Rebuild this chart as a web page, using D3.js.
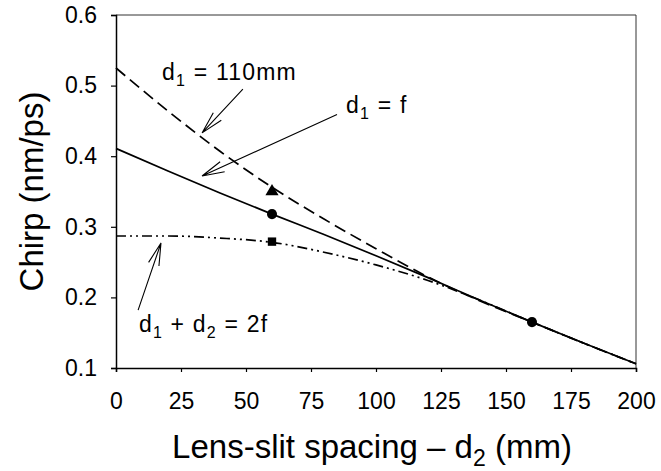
<!DOCTYPE html>
<html>
<head>
<meta charset="utf-8">
<script src="https://cdn.jsdelivr.net/npm/d3@7"></script>
<style>
  body { margin: 0; background: #fff; }
  svg { font-family: "Liberation Sans", Arial, Helvetica, sans-serif; }
</style>
</head>
<body>
<div id="chart"></div>
<script>
// spacing d2 (mm) sampled along the curves
const spacing = [0, 20, 40, 60, 80, 100, 120, 140, 160, 180, 200];
// chirp (nm/ps) for the three configurations
const chirpD1Fixed = [0.525, 0.464, 0.407, 0.356, 0.311, 0.269, 0.229, 0.195, 0.165, 0.135, 0.106]; // d1 = 110mm
const chirpD1EqF = [0.411, 0.379, 0.348, 0.318, 0.289, 0.259, 0.228, 0.196, 0.165, 0.135, 0.106];   // d1 = f
const chirpSum2f = [0.287, 0.287, 0.284, 0.278, 0.264, 0.246, 0.224, 0.196, 0.165, 0.135, 0.106];   // d1 + d2 = 2f

// measured points
const measured = [
  { d2: 60, chirp: 0.350, shape: "triangle" },
  { d2: 60, chirp: 0.318, shape: "circle" },
  { d2: 60, chirp: 0.279, shape: "square" },
  { d2: 160, chirp: 0.165, shape: "circle" },
];

const xTicks = [0, 25, 50, 75, 100, 125, 150, 175, 200];
const yTicks = [0.1, 0.2, 0.3, 0.4, 0.5, 0.6];

// annotation labels with arrows (data units)
const labels = [
  { main: "d", sub: "1", rest: " = 110mm", x: 17.7, y: 0.508, tail: [48.8, 0.495], tip: [33.1, 0.433] },
  { main: "d", sub: "1", rest: " = f", x: 88.5, y: 0.461, tail: [85, 0.459], tip: [33.1, 0.372] },
  { main: "d", sub: "1", rest: " + d", sub2: "2", rest2: " = 2f", x: 8.8, y: 0.151, tail: [8.5, 0.182], tip: [17.3, 0.277] },
];

const width = 661, height = 471;
const margin = { top: 15, right: 25, bottom: 103, left: 116 };

const svg = d3.select("#chart").append("svg")
  .attr("width", width)
  .attr("height", height);

const xScale = d3.scaleLinear().domain([0, 200]).range([margin.left, width - margin.right]);
const yScale = d3.scaleLinear().domain([0.1, 0.6]).range([height - margin.bottom, margin.top]);

// frame top & right
svg.append("path")
  .attr("d", `M${xScale(0)},${yScale(0.6)}H${xScale(200)}V${yScale(0.1)}`)
  .attr("fill", "none")
  .attr("stroke", "#333")
  .attr("stroke-width", 1);

// x axis
const xAxis = svg.append("g")
  .attr("transform", `translate(0,${yScale(0.1)})`)
  .call(d3.axisBottom(xScale).tickValues(xTicks).tickSize(4).tickPadding(21).tickFormat(d3.format("d")));
xAxis.select(".domain").attr("stroke", "#000").attr("stroke-width", 1.5);
xAxis.selectAll(".tick line").attr("stroke-width", 1.2);
xAxis.selectAll("text").attr("font-size", 23).attr("font-family", null).attr("fill", "#000");

// y axis
const yAxis = svg.append("g")
  .attr("transform", `translate(${xScale(0)},0)`)
  .call(d3.axisLeft(yScale).tickValues(yTicks).tickSize(5).tickPadding(14).tickFormat(d3.format(".1f")));
yAxis.select(".domain").attr("stroke", "#000").attr("stroke-width", 1.5);
yAxis.selectAll(".tick line").attr("stroke-width", 1.2);
yAxis.selectAll("text").attr("font-size", 23).attr("font-family", null).attr("fill", "#000");

// axis titles
const xt = svg.append("text")
  .attr("x", (xScale(0) + xScale(200)) / 2 - 4)
  .attr("y", 458)
  .attr("text-anchor", "middle")
  .attr("font-size", 33);
xt.append("tspan").text("Lens-slit spacing \u2013 d");
xt.append("tspan").attr("font-size", 23).attr("dy", 8).text("2");
xt.append("tspan").attr("dy", -8).text(" (mm)");

svg.append("text")
  .attr("transform", `translate(43,${(yScale(0.1) + yScale(0.6)) / 2}) rotate(-90)`)
  .attr("text-anchor", "middle")
  .attr("font-size", 33)
  .text("Chirp (nm/ps)");

// curves
const line = d3.line()
  .x((d) => xScale(d[0]))
  .y((d) => yScale(d[1]))
  .curve(d3.curveMonotoneX);

const series = [
  { values: chirpD1Fixed, dash: "12,6" },
  { values: chirpD1EqF, dash: null },
  { values: chirpSum2f, dash: "10,4,2,4,2,4" },
];

svg.append("g")
  .selectAll("path")
  .data(series)
  .join("path")
  .attr("d", (s) => line(spacing.map((x, i) => [x, s.values[i]])))
  .attr("fill", "none")
  .attr("stroke", "#000")
  .attr("stroke-width", 1.7)
  .attr("stroke-dasharray", (s) => s.dash);

// markers
const symbols = { triangle: d3.symbolTriangle, circle: d3.symbolCircle, square: d3.symbolSquare };
const sizes = { triangle: 75, circle: 80, square: 70 };
svg.append("g")
  .selectAll("path")
  .data(measured)
  .join("path")
  .attr("transform", (d) => `translate(${xScale(d.d2)},${yScale(d.chirp)})`)
  .attr("d", (d) => d3.symbol().type(symbols[d.shape]).size(sizes[d.shape])())
  .attr("fill", "#000");

// annotations
const ann = svg.append("g");
labels.forEach((l) => {
  const t = ann.append("text")
    .attr("x", xScale(l.x))
    .attr("y", yScale(l.y))
    .attr("font-size", 23)
    .attr("letter-spacing", 1.2);
  t.append("tspan").text(l.main);
  t.append("tspan").attr("font-size", 16).attr("dy", 6).text(l.sub);
  t.append("tspan").attr("dy", -6).text(l.rest);
  if (l.sub2) {
    t.append("tspan").attr("font-size", 16).attr("dy", 6).text(l.sub2);
    t.append("tspan").attr("dy", -6).text(l.rest2);
  }

  const x0 = xScale(l.tail[0]), y0 = yScale(l.tail[1]);
  const x1 = xScale(l.tip[0]), y1 = yScale(l.tip[1]);
  const ang = Math.atan2(y0 - y1, x0 - x1);
  const len = 23, spread = 0.24;
  const p = d3.path();
  p.moveTo(x0, y0);
  p.lineTo(x1, y1);
  p.moveTo(x1 + len * Math.cos(ang - spread), y1 + len * Math.sin(ang - spread));
  p.lineTo(x1, y1);
  p.lineTo(x1 + len * Math.cos(ang + spread), y1 + len * Math.sin(ang + spread));
  ann.append("path")
    .attr("d", p.toString())
    .attr("fill", "none")
    .attr("stroke", "#000")
    .attr("stroke-width", 1.1);
});
</script>
</body>
</html>
